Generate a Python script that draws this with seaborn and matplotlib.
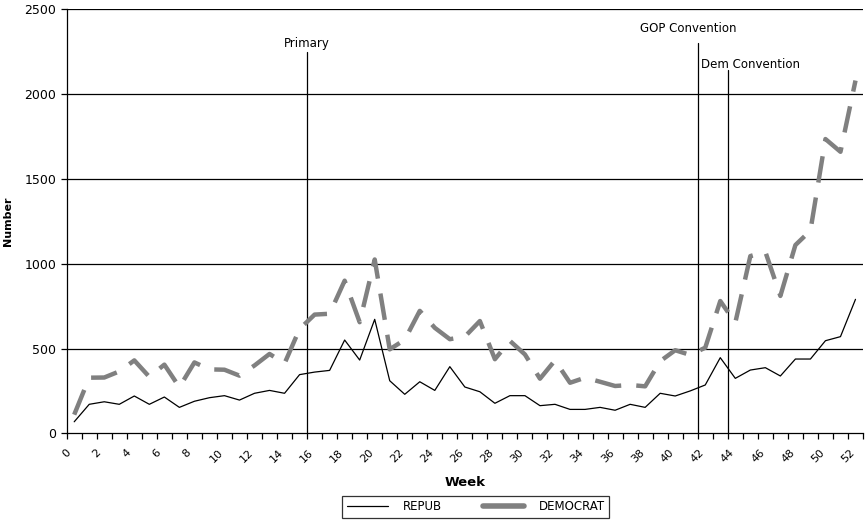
import numpy as np
import pandas as pd
import matplotlib
matplotlib.use("Agg")
import matplotlib.pyplot as plt
import seaborn as sns
from matplotlib.lines import Line2D

# weekly counts
weeks = list(range(53))
repub = [68, 171, 186, 171, 220, 171, 214, 153, 189, 210,
         222, 196, 236, 253, 236, 346, 361, 371, 550, 432,
         672, 310, 230, 304, 253, 393, 273, 245, 177, 222,
         222, 163, 171, 141, 141, 153, 136, 171, 153, 236,
         220, 250, 285, 446, 324, 373, 387, 338, 438, 438,
         546, 570, 790]
democrat = [110, 328, 329, 365, 430, 333, 405, 272, 418, 377,
            375, 340, 400, 468, 412, 615, 700, 705, 900, 655,
            1025, 495, 552, 722, 622, 555, 570, 662, 437, 545,
            465, 322, 430, 298, 328, 304, 279, 285, 277, 425,
            490, 462, 505, 780, 652, 1045, 1070, 810, 1110, 1195,
            1735, 1660, 2080]

events = ["Primary", "GOP Convention", "Dem Convention"]
event_weeks = [16, 42, 44]
event_tops = [2250, 2300, 2140]

sns.set_theme(style="white")
plt.rcParams['font.family'] = ['DejaVu Sans']
plt.rcParams['text.color'] = 'black'
plt.rcParams['axes.labelcolor'] = 'black'
plt.rcParams['xtick.color'] = 'black'
plt.rcParams['ytick.color'] = 'black'

df = pd.DataFrame({"week": weeks, "REPUB": repub, "DEMOCRAT": democrat})
# points sit in the middle of each week slot
df["xpos"] = df["week"] + 0.5

fig = plt.figure(figsize=(8.65, 5.2), dpi=100)
ax = fig.add_axes([0.0771, 0.1667, 0.9206, 0.8154])

for y in [500, 1000, 1500, 2000, 2500]:
    ax.axhline(y, color="black", lw=0.9, zorder=1)

sns.lineplot(data=df, x="xpos", y="DEMOCRAT", ax=ax, color="#808080", lw=3.2,
             zorder=3)
ax.lines[-1].set_linestyle((0, (6.0, 3.4)))
sns.lineplot(data=df, x="xpos", y="REPUB", ax=ax, color="black", lw=0.9, zorder=4)

# event markers
for name, wk, top in zip(events, event_weeks, event_tops):
    ax.plot([wk, wk], [0, top], color="black", lw=0.9, zorder=2)
ax.text(16, 2262, "Primary", ha="center", va="bottom", fontsize=8.5)
ax.text(41.4, 2385, "GOP Convention", ha="center", va="center", fontsize=8.5)
ax.text(42.2, 2172, "Dem Convention", ha="left", va="center", fontsize=8.5)

ax.set_xlim(0, 53)
ax.set_ylim(0, 2500)
ax.set_xticks(range(0, 53, 2))
ax.set_xticklabels([str(w) for w in range(0, 53, 2)], rotation=45, ha="center",
                   va="top", fontsize=8)
ax.set_xticks(range(0, 54), minor=True)
ax.set_yticks([0, 500, 1000, 1500, 2000, 2500])
ax.tick_params(axis="y", labelsize=9, length=4, width=0.9, direction="out", left=True)
ax.tick_params(axis="x", which="both", length=4, width=0.9, direction="out",
               bottom=True, pad=6)

for side in ["top", "right"]:
    ax.spines[side].set_visible(False)
for side in ["left", "bottom"]:
    ax.spines[side].set_color("black")
    ax.spines[side].set_linewidth(0.9)

ax.set_xlabel("Week", fontsize=9.5, fontweight="bold")
ax.xaxis.set_label_coords(0.5, -0.10)
ax.set_ylabel("Number", fontsize=8, fontweight="bold")
ax.yaxis.set_label_coords(-0.068, 0.5)

handles = [Line2D([], [], color="black", lw=0.9),
           Line2D([], [], color="#808080", lw=4)]
leg = fig.legend(handles, ["REPUB", "DEMOCRAT"], loc="center", ncol=2,
                 bbox_to_anchor=(0.550, 0.025), frameon=True, fancybox=False,
                 fontsize=8.5, handlelength=3.5, columnspacing=3.5,
                 borderpad=0.4, handletextpad=1.2)
leg.get_frame().set_edgecolor("black")
leg.get_frame().set_linewidth(0.9)

fig.savefig("out.png", dpi=100)
